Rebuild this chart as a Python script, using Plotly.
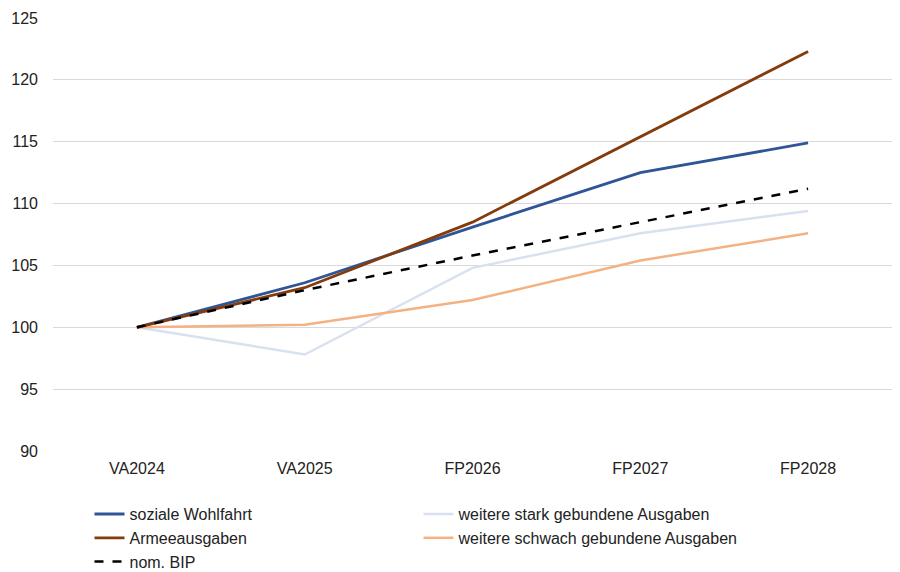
import plotly.graph_objects as go

# Kategorien (x-Achse)
jahre = ["VA2024", "VA2025", "FP2026", "FP2027", "FP2028"]

# Indexwerte (VA2024 = 100)
soziale_wohlfahrt = [100, 103.6, 108.1, 112.5, 114.9]
armeeausgaben = [100, 103.2, 108.5, 115.4, 122.3]
nom_bip = [100, 103.0, 105.8, 108.5, 111.2]
stark_gebunden = [100, 97.8, 104.8, 107.6, 109.4]
schwach_gebunden = [100, 100.2, 102.2, 105.4, 107.6]

y_ticks = [90, 95, 100, 105, 110, 115, 120, 125]

fig = go.Figure()

# (name, werte, farbe, breite, dash, legendrank) – Reihenfolge = Zeichenreihenfolge
serien = [
    ("weitere stark gebundene Ausgaben", stark_gebunden, "#d9e1f0", 2.5, "solid", 2),
    ("weitere schwach gebundene Ausgaben", schwach_gebunden, "#f4b183", 2.5, "solid", 4),
    ("soziale Wohlfahrt", soziale_wohlfahrt, "#2f5597", 2.8, "solid", 1),
    ("Armeeausgaben", armeeausgaben, "#843c0c", 2.8, "solid", 3),
    ("nom. BIP", nom_bip, "#000000", 2.5, "dash", 5),
]

for name, werte, farbe, breite, dash, rang in serien:
    fig.add_trace(go.Scatter(
        x=jahre,
        y=werte,
        mode="lines",
        name=name,
        legendrank=rang,
        line=dict(color=farbe, width=breite, dash=dash),
    ))

# die Seite hat 8 px Body-Rand, daher die Ränder entsprechend verschoben
fig.update_layout(
    width=900,
    height=572,
    paper_bgcolor="white",
    plot_bgcolor="white",
    font=dict(family="Liberation Sans, Arial, sans-serif", size=16, color="#222222"),
    margin=dict(l=45, r=16, t=10, b=129, autoexpand=False),
    showlegend=True,
    legend=dict(
        orientation="h",
        x=0.0435,
        xanchor="left",
        y=-0.1065,
        yanchor="top",
        entrywidth=284,
        entrywidthmode="pixels",
        font=dict(size=16, color="#222222"),
        bgcolor="rgba(0,0,0,0)",
        tracegroupgap=0,
    ),
    xaxis=dict(
        range=[-0.5, 4.5],
        showgrid=False,
        showline=False,
        ticks="",
        tickfont=dict(size=16),
        ticklabelstandoff=6,
        automargin=False,
    ),
    yaxis=dict(
        range=[90, 125],
        tickvals=y_ticks,
        showgrid=True,
        gridcolor="#d9d9d9",
        gridwidth=1,
        zeroline=False,
        showline=False,
        ticks="",
        tickfont=dict(size=16),
        ticklabelstandoff=14,
        automargin=False,
    ),
)

fig.write_html("out.html")
